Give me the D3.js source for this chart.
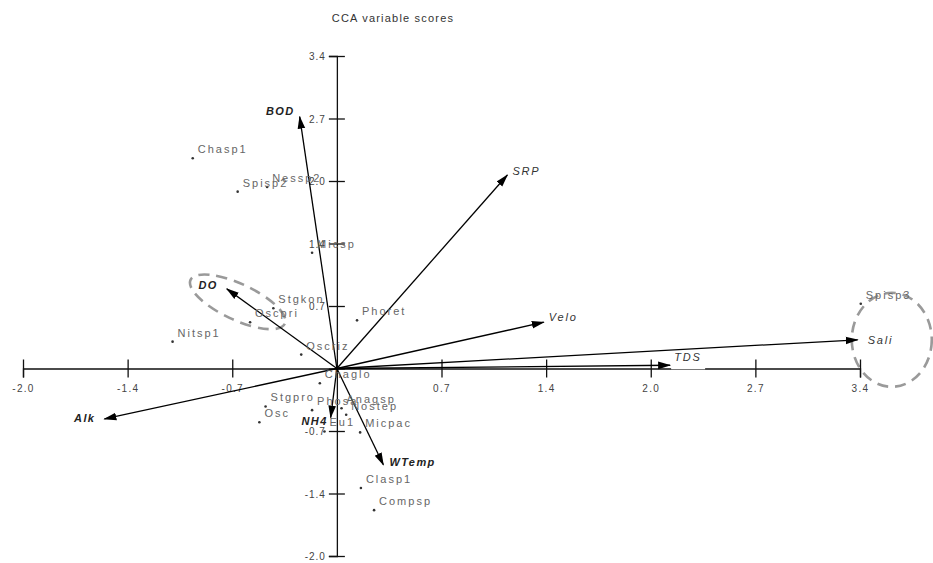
<!DOCTYPE html>
<html>
<head>
<meta charset="utf-8">
<script src="https://cdn.jsdelivr.net/npm/d3@7"></script>
<style>
  html, body { margin: 0; padding: 0; background: #fff; }
  svg { display: block; font-family: "Liberation Sans", Arial, sans-serif; }
</style>
</head>
<body>
<svg id="chart" width="933" height="563"></svg>
<script>
// Environmental variable biplot arrows (CCA axis 1, axis 2)
const envNames = ["BOD", "SRP", "Velo", "Sali", "TDS", "Alk", "DO", "NH4", "WTemp"];
const envAxis1 = [-0.24, 1.10, 1.335, 3.36, 2.15, -1.50, -0.71, -0.04, 0.30];
const envAxis2 = [2.72, 2.09, 0.50, 0.31, 0.035, -0.545, 0.86, -0.53, -1.04];

// Species scores
const spNames = ["Chasp1", "Spisp2", "Nessp2", "Micsp", "Stgkon", "Oscpri", "Nitsp1", "Oscriz",
                 "Phoret", "Chaglo", "Stgpro", "Osc", "Phosa", "Anagsp", "Nostep", "Eu1",
                 "Micpac", "Clasp1", "Compsp", "Spisp3"];
const spAxis1 = [-0.93, -0.64, -0.45, -0.16, -0.41, -0.56, -1.06, -0.23,
                 0.13, -0.11, -0.46, -0.50, -0.16, 0.03, 0.06, -0.08,
                 0.15, 0.155, 0.24, 3.38];
const spAxis2 = [2.27, 1.91, 1.96, 1.25, 0.65, 0.50, 0.29, 0.15,
                 0.52, -0.16, -0.41, -0.58, -0.45, -0.43, -0.50, -0.68,
                 -0.69, -1.29, -1.53, 0.70];

// Axis ticks: steps of 0.675, labelled to one decimal
const tickSteps = [-3, -2, -1, 0, 1, 2, 3, 4, 5];
const tickLabels = ["-2.0", "-1.4", "-0.7", "", "0.7", "1.4", "2.0", "2.7", "3.4"];
const tickStep = 0.675;

// Hand-drawn groupings (centre in axis units)
const groupNames = ["DO group", "Sali group"];
const groupAxis1 = [-0.64, 3.58];
const groupAxis2 = [0.72, 0.31];

const title = "CCA  variable scores";

// ---- layout ----
const svg = d3.select("#chart");
const x = d3.scaleLinear().domain([-3 * tickStep, 5 * tickStep]).range([23, 860]);
const y = d3.scaleLinear().domain([-3 * tickStep, 5 * tickStep]).range([556, 56]);
const tickValues = tickSteps.map(s => s * tickStep);

// label placement for the arrow names relative to the arrow tip
const envLabelPos = {
  BOD:   { dx: -5, dy: -2, anchor: "end",   bold: true },
  SRP:   { dx: 5,  dy: 0,  anchor: "start", bold: false },
  Velo:  { dx: 5,  dy: -1, anchor: "start", bold: false },
  Sali:  { dx: 10, dy: 4,  anchor: "start", bold: false },
  TDS:   { dx: 4,  dy: -4, anchor: "start", bold: false },
  Alk:   { dx: -9, dy: 3,  anchor: "end",   bold: true },
  DO:    { dx: -9, dy: 0,  anchor: "end",   bold: true },
  NH4:   { dx: -3, dy: 7,  anchor: "end",   bold: true },
  WTemp: { dx: 6,  dy: 1,  anchor: "start", bold: true }
};

// Title
svg.append("text")
  .attr("x", 393).attr("y", 22)
  .attr("text-anchor", "middle")
  .attr("font-size", 11)
  .attr("letter-spacing", 1.2)
  .attr("fill", "#333")
  .text(title);

// Dashed group outlines
const groups = svg.append("g").attr("fill", "none").attr("stroke", "#9a9a9a")
  .attr("stroke-width", 2.6).attr("stroke-dasharray", "11,7");
groups.append("ellipse")
  .attr("cx", 0).attr("cy", 0).attr("rx", 52).attr("ry", 18)
  .attr("transform", `translate(${x(groupAxis1[0])},${y(groupAxis2[0])}) rotate(25)`);
groups.append("ellipse")
  .attr("cx", 0).attr("cy", 0).attr("rx", 40).attr("ry", 47)
  .attr("transform", `translate(${x(groupAxis1[1])},${y(groupAxis2[1])})`);

// Axes crossing at the origin
const xAxis = d3.axisBottom(x).tickValues(tickValues)
  .tickFormat((d, i) => tickLabels[i]).tickSizeOuter(0).tickSize(9).tickPadding(0);
const gx = svg.append("g").attr("transform", `translate(0,${y(0)})`).call(xAxis);
gx.select(".domain").attr("stroke", "#111").attr("stroke-width", 1.3);
gx.selectAll(".tick line").attr("y1", -9).attr("y2", 9).attr("stroke", "#111").attr("stroke-width", 1.3);
gx.selectAll(".tick text").attr("y", 16).attr("dy", "0.71em")
  .attr("font-size", 10).attr("letter-spacing", 1.3).attr("fill", "#444")
  .attr("font-family", "Liberation Sans, Arial, sans-serif");

const yAxis = d3.axisLeft(y).tickValues(tickValues)
  .tickFormat((d, i) => tickLabels[i]).tickSizeOuter(0).tickSize(8).tickPadding(0);
const gy = svg.append("g").attr("transform", `translate(${x(0)},0)`).call(yAxis);
gy.select(".domain").attr("stroke", "#111").attr("stroke-width", 1.3);
gy.selectAll(".tick line").attr("x1", -8).attr("x2", 8).attr("stroke", "#111").attr("stroke-width", 1.3);
gy.selectAll(".tick text").attr("x", -11).attr("dy", "0.35em")
  .attr("font-size", 10).attr("letter-spacing", 1.0).attr("fill", "#444")
  .attr("font-family", "Liberation Sans, Arial, sans-serif");

// Arrowhead marker
svg.append("defs").append("marker")
  .attr("id", "head").attr("markerUnits", "userSpaceOnUse")
  .attr("viewBox", "0 -5 13 10").attr("refX", 12).attr("refY", 0)
  .attr("markerWidth", 13).attr("markerHeight", 10).attr("orient", "auto")
  .append("path").attr("d", "M0,-3.8L13,0L0,3.8Z").attr("fill", "#000");

const env = envNames.map((n, i) => ({ name: n, a1: envAxis1[i], a2: envAxis2[i] }));

// White backing behind the TDS name (it sits on the axis)
const tds = env.find(d => d.name === "TDS");
svg.append("rect")
  .attr("x", x(tds.a1) + 1).attr("y", y(tds.a2) - 14)
  .attr("width", 34).attr("height", 18).attr("fill", "#fff");

// Arrows
svg.append("g").selectAll("line").data(env).join("line")
  .attr("x1", x(0)).attr("y1", y(0))
  .attr("x2", d => x(d.a1)).attr("y2", d => y(d.a2))
  .attr("stroke", "#000").attr("stroke-width", 1.3)
  .attr("marker-end", "url(#head)");

svg.append("g").selectAll("text").data(env).join("text")
  .attr("x", d => x(d.a1) + envLabelPos[d.name].dx)
  .attr("y", d => y(d.a2) + envLabelPos[d.name].dy)
  .attr("text-anchor", d => envLabelPos[d.name].anchor)
  .attr("font-size", 11).attr("font-style", "italic")
  .attr("font-weight", d => envLabelPos[d.name].bold ? "bold" : "normal")
  .attr("letter-spacing", d => envLabelPos[d.name].bold ? 1.4 : 1.8)
  .attr("fill", d => envLabelPos[d.name].bold ? "#222" : "#333")
  .text(d => d.name);

// Species points and names
const sp = spNames.map((n, i) => ({ name: n, a1: spAxis1[i], a2: spAxis2[i] }));
const gs = svg.append("g");
gs.selectAll("circle").data(sp).join("circle")
  .attr("cx", d => x(d.a1)).attr("cy", d => y(d.a2)).attr("r", 1.3).attr("fill", "#333");
gs.selectAll("text").data(sp).join("text")
  .attr("x", d => x(d.a1) + 5).attr("y", d => y(d.a2) - 5)
  .attr("font-size", 11).attr("letter-spacing", 2.0).attr("fill", "#666")
  .text(d => d.name);
</script>
</body>
</html>
